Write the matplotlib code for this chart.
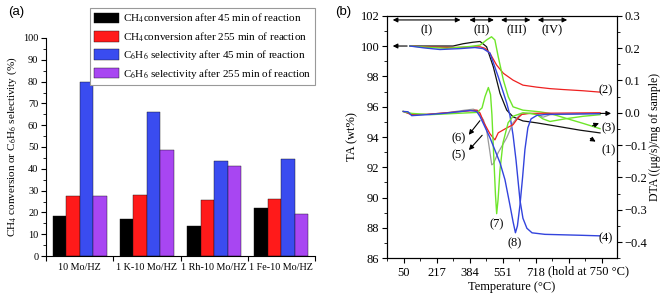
import matplotlib
matplotlib.use('Agg')
import matplotlib.pyplot as plt
from matplotlib.ticker import MultipleLocator, FixedLocator, NullFormatter, FixedFormatter

plt.rcParams['font.family'] = ['Liberation Serif', 'DejaVu Serif']
plt.rcParams['mathtext.fontset'] = 'stix'
plt.rcParams['axes.linewidth'] = 0.8

# ---- panel (a) data ----
catalysts = ['10 Mo/HZ', '1 K-10 Mo/HZ', '1 Rh-10 Mo/HZ', '1 Fe-10 Mo/HZ']
ch4_45 = [18.2, 17.2, 13.6, 21.9]
ch4_255 = [27.6, 28.0, 25.8, 26.3]
c6h6_45 = [80.0, 66.2, 43.8, 44.5]
c6h6_255 = [27.5, 48.7, 41.2, 19.3]
series_names = ['CH$_4$conversion after 45 min of reaction',
                'CH$_4$conversion after 255 min of reaction',
                'C$_6$H$_6$ selectivity after 45 min of reaction',
                'C$_6$H$_6$ selectivity after 255 min of reaction']
bar_colors = ['#000000', '#ff1a1a', '#3a4cf0', '#a846f2']

# ---- panel (b) data: TG curves (left axis) ----
tg1_x = [80, 298, 349, 399, 435, 468, 502, 536, 570, 602, 652, 723, 824, 941, 1042]
tg1_y = [100.0, 100.0, 100.15, 100.25, 100.3, 99.95, 98.63, 96.87, 95.77, 95.33, 95.06, 94.93, 94.71, 94.45, 94.27]
tg2_x = [80, 182, 283, 384, 435, 460, 485, 519, 553, 602, 652, 721, 789, 855, 956, 1042]
tg2_y = [100.0, 99.93, 99.9, 99.93, 99.95, 99.85, 99.52, 98.74, 98.2, 97.75, 97.42, 97.29, 97.19, 97.13, 97.05, 96.96]
tg3_x = [80, 182, 268, 384, 435, 468, 493, 510, 527, 553, 578, 602, 652, 738, 789, 873, 956, 1042]
tg3_y = [100.0, 99.9, 99.85, 99.97, 100.06, 100.4, 100.61, 100.4, 99.29, 97.75, 96.65, 95.99, 95.77, 95.66, 95.55, 95.22, 94.9, 94.55]
tg4_x = [80, 156, 232, 333, 409, 450, 485, 527, 570, 586, 602, 617, 627, 637, 652, 672, 698, 763, 941, 1042]
tg4_y = [100.0, 99.87, 99.77, 99.83, 99.9, 99.83, 99.54, 97.97, 96.23, 95.44, 94.12, 92.47, 91.15, 89.83, 88.64, 87.98, 87.68, 87.58, 87.52, 87.48]

# ---- panel (b) data: DTA curves (right axis) ----
dta5_x = [46, 89, 165, 266, 359, 401, 420, 452, 468, 483, 494, 502, 526, 570, 602, 637, 671, 723, 753, 789, 1042]
dta5_y = [0.004, -0.006, -0.005, 0.0, 0.008, 0.011, 0.006, -0.022, -0.053, -0.114, -0.161, -0.158, -0.124, -0.077, -0.031, -0.006, -0.002, -0.003, -0.014, -0.006, -0.002]
dta6_x = [46, 89, 165, 266, 384, 420, 435, 452, 485, 510, 527, 570, 602, 627, 647, 687, 1042]
dta6_y = [0.004, -0.006, -0.005, 0.0, 0.006, 0.008, -0.001, -0.028, -0.065, -0.084, -0.062, -0.047, -0.037, -0.016, -0.005, -0.002, 0.0]
dta7_x = [46, 89, 182, 283, 384, 420, 445, 460, 477, 488, 495, 505, 513, 519, 526, 536, 551, 577, 602, 652, 687, 723, 753, 789, 864, 956, 1042]
dta7_y = [0.004, -0.002, -0.006, -0.003, 0.0, 0.001, 0.015, 0.05, 0.078, 0.056, -0.006, -0.145, -0.254, -0.312, -0.269, -0.176, -0.093, -0.031, -0.011, 0.0, -0.002, -0.006, -0.019, -0.027, -0.019, -0.011, -0.006]
dta8_x = [46, 70, 89, 165, 266, 384, 418, 435, 485, 536, 561, 586, 602, 614, 624, 637, 650, 662, 677, 693, 723, 774, 1042]
dta8_y = [0.004, 0.003, -0.009, -0.006, -0.001, 0.007, 0.004, -0.012, -0.077, -0.155, -0.207, -0.285, -0.337, -0.371, -0.35, -0.285, -0.201, -0.114, -0.046, -0.019, -0.008, -0.005, -0.003]

temp_ticks = [50, 217, 384, 551, 718]

fig = plt.figure(figsize=(6.61, 2.97), dpi=100)

# ================= panel (a) =================
axa = fig.add_axes([46 / 661, 1 - 256 / 297, 269 / 661, 218 / 297])
offsets = [-0.3, -0.1, 0.1, 0.3]
groups = [i + 0.5 for i in range(len(catalysts))]
for vals, off, col, name in zip([ch4_45, ch4_255, c6h6_45, c6h6_255], offsets, bar_colors, series_names):
    axa.bar([g + off for g in groups], vals, width=0.2, color=col, edgecolor='#111111',
            linewidth=0.3, label=name)
axa.set_xlim(0, 4)
axa.set_ylim(0, 100)
axa.spines['top'].set_visible(False)
axa.spines['right'].set_visible(False)
axa.yaxis.set_major_locator(MultipleLocator(10))
axa.yaxis.set_minor_locator(MultipleLocator(5))
axa.xaxis.set_major_locator(FixedLocator([0, 1, 2, 3, 4]))
axa.xaxis.set_major_formatter(NullFormatter())
axa.xaxis.set_minor_locator(FixedLocator(groups))
axa.xaxis.set_minor_formatter(FixedFormatter(catalysts))
axa.tick_params(axis='x', which='minor', length=0, labelsize=7.3, pad=5)
axa.tick_params(axis='x', which='major', direction='out', length=3.5, width=0.8)
axa.tick_params(axis='y', which='major', direction='out', length=3.5, width=0.8, labelsize=7.5, pad=2)
axa.tick_params(axis='y', which='minor', direction='out', length=2, width=0.6)
axa.set_ylabel('CH$_4$ conversion or C$_6$H$_6$ selectivity (%)', fontsize=8, labelpad=3)
leg = axa.legend(loc='upper right', bbox_to_anchor=(315 / 661, 1 - 8 / 297),
                 bbox_transform=fig.transFigure, borderaxespad=0, fontsize=8,
                 handlelength=2.3, handleheight=1.1, labelspacing=0.42, handletextpad=0.3,
                 borderpad=0.35, fancybox=False, framealpha=1, edgecolor='#999999')
leg.get_frame().set_linewidth(0.8)
fig.text(8 / 661, 1 - 12 / 297, '(a)', fontsize=9.5, family='Liberation Sans', va='center')

# ================= panel (b) =================
axb = fig.add_axes([387 / 661, 1 - 258.3 / 297, 230 / 661, 242.6 / 297])
axr = axb.twinx()

axr.plot(dta5_x, dta5_y, color='#9a9a9a', lw=0.9)
axr.plot(dta6_x, dta6_y, color='#ee2020', lw=0.9)
axr.plot(dta7_x, dta7_y, color='#6ee62a', lw=1.0)
axr.plot(dta8_x, dta8_y, color='#3344dd', lw=1.0)

axb.plot(tg1_x, tg1_y, color='#111111', lw=0.9)
axb.plot(tg2_x, tg2_y, color='#ee2020', lw=0.9)
axb.plot(tg3_x, tg3_y, color='#6ee62a', lw=1.0)
axb.plot(tg4_x, tg4_y, color='#3344dd', lw=1.0)

axb.set_xlim(-36, 1128)
axb.set_ylim(86, 102)
axr.set_ylim(-0.45, 0.3)
axb.xaxis.set_major_locator(FixedLocator(temp_ticks + [885, 1052]))
axb.xaxis.set_major_formatter(FixedFormatter([str(t) for t in temp_ticks] + ['', '']))
axb.xaxis.set_minor_locator(MultipleLocator(83.5, offset=-33.5))
axb.yaxis.set_major_locator(MultipleLocator(2))
axb.yaxis.set_minor_locator(MultipleLocator(1))
axr.yaxis.set_major_locator(MultipleLocator(0.1))
axr.yaxis.set_minor_locator(MultipleLocator(0.05))
for ax in (axb, axr):
    ax.tick_params(which='major', direction='out', length=3.5, width=0.8, labelsize=9, pad=2)
    ax.tick_params(which='minor', direction='out', length=2, width=0.6)
axb.tick_params(axis='x', which='major', pad=3)
axb.set_ylabel('TA (wt%)', fontsize=9, labelpad=2)
axr.set_ylabel('DTA ((μg/s)/mg of sample)', fontsize=8.5, labelpad=1)
axb.set_xlabel('Temperature (°C)', fontsize=9, labelpad=2)
axb.xaxis.set_label_coords(0.543, -0.095)
axb.annotate('(hold at 750 °C)', xy=(779, 0), xycoords=('data', 'axes fraction'),
             xytext=(0, -5), textcoords='offset points', ha='left', va='top', fontsize=9)

arrow_kw = dict(arrowstyle='-|>', color='black', lw=0.8, mutation_scale=7)
both_kw = dict(arrowstyle='<|-|>', color='black', lw=0.8, mutation_scale=7)

# region markers
regions = [('(I)', -21, 350, 165), ('(II)', 367, 519, 443),
           ('(III)', 527, 704, 620), ('(IV)', 713, 890, 797)]
for lab, x0, x1, xm in regions:
    axb.annotate('', xy=(x0, 101.72), xytext=(x1, 101.72), arrowprops=both_kw)
    axb.text(xm, 101.06, lab, ha='center', va='center', fontsize=9)

# axis pointers
axb.annotate('', xy=(-21, 100.0), xytext=(80, 100.0), arrowprops=arrow_kw)
axr.annotate('', xy=(1112, -0.002), xytext=(1030, -0.002), arrowprops=arrow_kw)

# curve labels
axb.text(1072, 97.09, '(2)', ha='center', va='center', fontsize=9)
axb.text(1085, 94.55, '(3)', ha='center', va='center', fontsize=9)
axb.text(1085, 93.1, '(1)', ha='center', va='center', fontsize=9)
axb.text(1072, 87.35, '(4)', ha='center', va='center', fontsize=9)
axb.text(328, 93.92, '(6)', ha='center', va='center', fontsize=9)
axb.text(328, 92.8, '(5)', ha='center', va='center', fontsize=9)
axb.text(519, 88.25, '(7)', ha='center', va='center', fontsize=9)
axb.text(612, 87.0, '(8)', ha='center', va='center', fontsize=9)
axb.annotate('', xy=(1050, 94.98), xytext=(991, 94.67), arrowprops=arrow_kw)
axb.annotate('', xy=(1032, 93.6), xytext=(981, 94.0), arrowprops=arrow_kw)
axb.annotate('', xy=(369, 94.0), xytext=(443, 95.22), arrowprops=arrow_kw)
axb.annotate('', xy=(369, 93.0), xytext=(455, 94.25), arrowprops=arrow_kw)

fig.text(335 / 661, 1 - 12 / 297, '(b)', fontsize=9.5, family='Liberation Sans', va='center')

fig.savefig('out.png', dpi=100)
